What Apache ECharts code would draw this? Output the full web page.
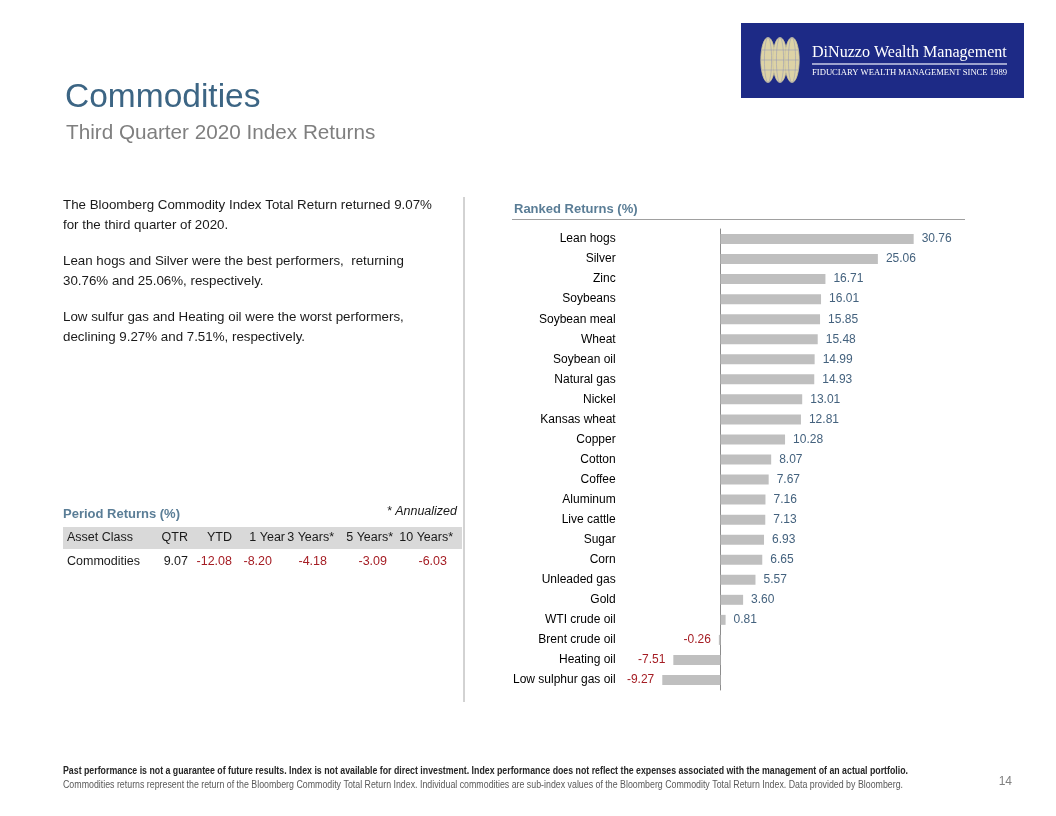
<!DOCTYPE html>
<html>
<head>
<meta charset="utf-8">
<script src="https://cdn.jsdelivr.net/npm/echarts@6/dist/echarts.min.js"></script>
<style>
html,body{margin:0;padding:0;background:#fff;}
#chart{width:1056px;height:816px;}
</style>
</head>
<body>
<div id="chart"></div>
<script>
// ---- Data ----
const categories = ['Lean hogs','Silver','Zinc','Soybeans','Soybean meal','Wheat','Soybean oil','Natural gas','Nickel','Kansas wheat','Copper','Cotton','Coffee','Aluminum','Live cattle','Sugar','Corn','Unleaded gas','Gold','WTI crude oil','Brent crude oil','Heating oil','Low sulphur gas oil'];
const returns = [30.76,25.06,16.71,16.01,15.85,15.48,14.99,14.93,13.01,12.81,10.28,8.07,7.67,7.16,7.13,6.93,6.65,5.57,3.60,0.81,-0.26,-7.51,-9.27];
const periodHeaders = ['Asset Class','QTR','YTD','1 Year','3 Years*','5 Years*','10 Years*'];
const periodRowLabel = 'Commodities';
const periodValues = [9.07,-12.08,-8.20,-4.18,-3.09,-6.03];
const paragraphLines = [
  'The Bloomberg Commodity Index Total Return returned 9.07%',
  'for the third quarter of 2020.',
  'Lean hogs and Silver were the best performers,  returning',
  '30.76% and 25.06%, respectively.',
  'Low sulfur gas and Heating oil were the worst performers,',
  'declining 9.27% and 7.51%, respectively.'
];
const footer1 = 'Past performance is not a guarantee of future results. Index is not available for direct investment. Index performance does not reflect the expenses associated with the management of an actual portfolio.';
const footer2 = 'Commodities returns represent the return of the Bloomberg Commodity Total Return Index. Individual commodities are sub-index values of the Bloomberg Commodity Total Return Index. Data provided by Bloomberg.';

// ---- Style ----
const FONT = '"Liberation Sans", Arial, sans-serif';
const SERIF = '"Liberation Serif", "Times New Roman", serif';
const BLUE_TITLE = '#3c6584';
const HEAD = '#5a7d96';
const POS = '#44627e';
const NEG = '#a51d24';
const TXT = '#1a1a1a';

const cv = document.createElement('canvas');
const cx = cv.getContext('2d');
function measure(font, s){ cx.font = font; return cx.measureText(s).width; }

const g = [];
function txt(x, y, s, o){
  o = o || {};
  g.push({type:'text', x:x, y:y, scaleX:o.scaleX||1, silent:true,
    style:{text:s, fill:o.fill||TXT, fontSize:o.size||12, fontFamily:o.family||FONT,
      fontWeight:o.weight||'normal', fontStyle:o.style||'normal',
      align:o.align||'left', verticalAlign:'middle'}});
}

// Logo
g.push({type:'rect', shape:{x:741,y:23,width:283,height:75}, style:{fill:'#1d2a86'}, silent:true});
[768,780,792].forEach(cxp=>{
  g.push({type:'ellipse', shape:{cx:cxp, cy:60, rx:7.2, ry:22.5}, style:{fill:'#ddd3a6', stroke:'#c9c3a0', lineWidth:0.8}, silent:true});
  g.push({type:'ellipse', shape:{cx:cxp, cy:60, rx:3.6, ry:22.5}, style:{fill:'none', stroke:'#8e93b5', lineWidth:0.5}, silent:true});
  [50,60,70].forEach(yy=>{
    g.push({type:'line', shape:{x1:cxp-6.8, y1:yy, x2:cxp+6.8, y2:yy}, style:{stroke:'#8e93b5', lineWidth:0.5}, silent:true});
  });
});
(function(){
  const s1 = 'DiNuzzo Wealth Management';
  const w1 = measure('19px ' + SERIF, s1);
  txt(812, 53, s1, {size:19*195/w1, family:SERIF, fill:'#ffffff'});
  const s = 'FIDUCIARY WEALTH MANAGEMENT SINCE 1989';
  const w = measure('9px ' + SERIF, s);
  txt(812, 73, s, {size:9, family:SERIF, fill:'#ffffff', scaleX:195/w});
})();
g.push({type:'line', shape:{x1:812,y1:64,x2:1007,y2:64}, style:{stroke:'#c8cce6', lineWidth:1.5}, silent:true});

// Titles
txt(65, 97.5, 'Commodities', {size:33.5, fill:BLUE_TITLE});
txt(66, 133, 'Third Quarter 2020 Index Returns', {size:20.7, fill:'#7f7f7f'});

// Paragraphs
const pY = [205,225,261,281,317,337];
paragraphLines.forEach((s,i)=> txt(63, pY[i], s, {size:13.33}));

// Divider
g.push({type:'line', shape:{x1:464,y1:197,x2:464,y2:702}, style:{stroke:'#a6a6a6', lineWidth:1}, silent:true});

// Ranked header
txt(514, 209, 'Ranked Returns (%)', {size:13, weight:'bold', fill:HEAD});
g.push({type:'line', shape:{x1:512,y1:219.5,x2:965,y2:219.5}, style:{stroke:'#a0a0a0', lineWidth:1}, silent:true});

// Period returns table
txt(63, 514, 'Period Returns (%)', {size:13, weight:'bold', fill:HEAD});
txt(457, 512, '* Annualized', {size:12.5, style:'italic', align:'right'});
g.push({type:'rect', shape:{x:63,y:527,width:399,height:22}, style:{fill:'#d9d9d9'}, silent:true});
const headRight = [null,188,232,285,334,393,453];
periodHeaders.forEach((h,i)=>{
  if(i===0) txt(67, 538, h, {size:12.5});
  else txt(headRight[i], 538, h, {size:12.5, align:'right'});
});
const valRight = [188,232,272,327,387,447];
txt(67, 562, periodRowLabel, {size:12.5});
periodValues.forEach((v,i)=>{
  txt(valRight[i], 562, v.toFixed(2), {size:12.5, align:'right', fill: v<0?NEG:TXT});
});

// Footer
(function(){
  const w1 = measure('bold 10px ' + FONT, footer1);
  txt(63, 771, footer1, {size:10, weight:'bold', fill:'#262626', scaleX:845/w1});
  const w2 = measure('10px ' + FONT, footer2);
  txt(63, 785, footer2, {size:10, fill:'#595959', scaleX:840/w2});
})();
txt(1012, 782, '14', {size:12, fill:'#808080', align:'right'});

const chart = echarts.init(document.getElementById('chart'), null, {renderer:'canvas'});
chart.setOption({
  animation:false,
  grid:{left:657.7, top:229, width:282.6, height:461, containLabel:false},
  xAxis:{type:'value', min:-10, max:35, show:false, splitLine:{show:false}},
  yAxis:{type:'category', data:categories, inverse:true,
    axisLine:{show:true, onZero:true, lineStyle:{color:'#8c8c8c', width:1}},
    axisTick:{show:false},
    axisLabel:{margin:42, color:'#000', fontSize:12, fontFamily:FONT}},
  series:[{type:'bar', barWidth:10,
    itemStyle:{color:'#bfbfbf'},
    data: returns.map(v=>({value:v, label:{position: v>=0?'right':'left', color: v>=0?POS:NEG}})),
    label:{show:true, distance:8, fontSize:12, fontFamily:FONT, formatter:p=>p.value.toFixed(2)}
  }],
  graphic: g
});
</script>
</body>
</html>
